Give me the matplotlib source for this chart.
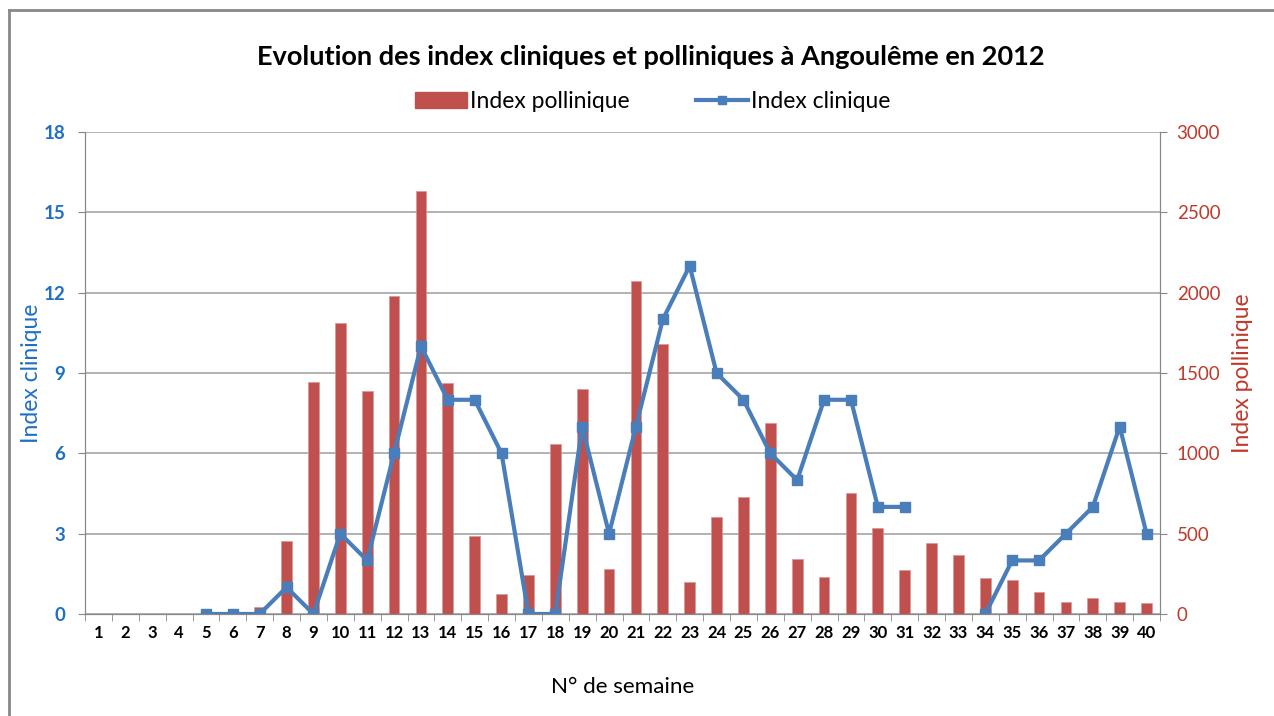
import numpy as np
import matplotlib.pyplot as plt
from matplotlib.lines import Line2D

plt.rcParams['font.family'] = ['Lato', 'DejaVu Sans']

semaines = list(range(1, 41))
# index pollinique (axe de droite)
pollen = [0, 0, 0, 0, 0, 0, 45, 455, 1445, 1810, 1385, 1980, 2635, 1435, 485, 125,
          245, 1055, 1400, 280, 2075, 1680, 200, 605, 730, 1190, 345, 230, 755, 535,
          275, 445, 365, 225, 210, 135, 75, 100, 75, 70]
# index clinique (axe de gauche), None = pas de mesure
clinique = [None, None, None, None, 0, 0, 0, 1, 0, 3, 2, 6, 10, 8, 8, 6,
            0, 0, 7, 3, 7, 11, 13, 9, 8, 6, 5, 8, 8, 4,
            4, None, None, 0, 2, 2, 3, 4, 7, 3]

bleu = '#4A7EBB'
rouge = '#C0504D'
bleu_txt = '#1F6FC5'
rouge_txt = '#C0392B'

fig = plt.figure(figsize=(12.74, 7.16), dpi=100)
ax = fig.add_axes([85/1274, 102/716, (1160-85)/1274, (614-132)/716])
ax2 = ax.twinx()

# barres sur ax2, ligne par-dessus sur ax
ax.set_zorder(ax2.get_zorder() + 1)
ax.patch.set_visible(False)

ax2.bar(semaines, pollen, width=0.4, color=rouge, edgecolor='#D99694', linewidth=0.5)
y = np.array([np.nan if v is None else v for v in clinique], dtype=float)
ax.plot(semaines, y, color=bleu, lw=3, marker='s', ms=7, mfc=bleu, mec=bleu)

ax.set_xlim(0.5, 40.5)
ax.set_ylim(0, 18)
ax2.set_ylim(0, 3000)
ax.set_yticks(np.arange(0, 19, 3))
ax2.set_yticks(np.arange(0, 3001, 500))
ax.set_xticks(semaines)
ax.set_xticks(np.arange(0.5, 41, 1), minor=True)
ax.tick_params(axis='x', which='major', length=0, pad=8, labelsize=12)
ax.tick_params(axis='x', which='minor', length=5, color='#888888')
for lab in ax.get_xticklabels():
    lab.set_fontweight('bold')
ax.tick_params(axis='y', length=5, color='#888888', labelcolor=bleu_txt, labelsize=13.5, pad=9)
for lab in ax.get_yticklabels():
    lab.set_fontweight('bold')
ax2.tick_params(axis='y', length=5, color='#888888', labelcolor=rouge_txt, labelsize=13.5, pad=7)

ax2.yaxis.grid(True, color='#A6A6A6', lw=1.2)
ax2.set_axisbelow(True)

for a in (ax, ax2):
    a.spines['top'].set_visible(False)
    for s in ('left', 'right', 'bottom'):
        a.spines[s].set_color('#888888')

ax.set_ylabel('Index clinique', color=bleu_txt, fontsize=16.5, labelpad=1)
ax2.set_ylabel('Index pollinique', color=rouge_txt, fontsize=16.5, labelpad=8)
ax.set_xlabel('N° de semaine', fontsize=16.2, labelpad=26)

fig.text(0.511, 0.92, 'Evolution des index cliniques et polliniques à Angoulême en 2012',
         ha='center', va='center', fontsize=19.5, fontweight='bold')

handles = [plt.Rectangle((0, 0), 1, 1, color=rouge),
           Line2D([], [], color=bleu, lw=3, marker='s', ms=6)]
fig.legend(handles, ['Index pollinique', 'Index clinique'], loc='center',
           bbox_to_anchor=(0.512, 0.858), ncol=2, frameon=False, fontsize=16.5,
           handlelength=2.3, handletextpad=0.1, columnspacing=2.9)

# cadre du graphique
fig.add_artist(Line2D([9/1274, 9/1274], [0, 1 - 10/716], color='#888888', lw=2))
fig.add_artist(Line2D([9/1274, 1], [1 - 10/716, 1 - 10/716], color='#888888', lw=2))

fig.savefig('out.png', dpi=100)
